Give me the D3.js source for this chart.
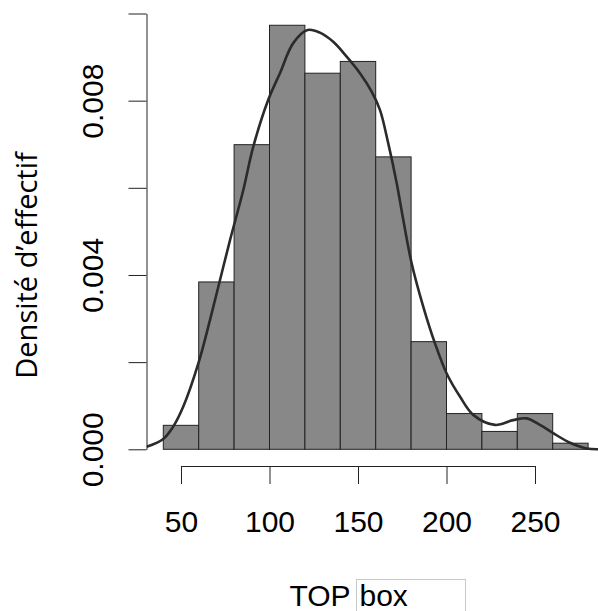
<!DOCTYPE html>
<html>
<head>
<meta charset="utf-8">
<script src="https://cdn.jsdelivr.net/npm/d3@7/dist/d3.min.js"></script>
<style>
  html, body { margin: 0; padding: 0; background: #fff; }
  svg { display: block; }
</style>
</head>
<body>
<svg id="chart" width="598" height="611"></svg>
<script>
// Histogram bins (TOP box) and their densities
const binEdges = [40, 60, 80, 100, 120, 140, 160, 180, 200, 220, 240, 260, 280];
const binDensity = [0.00055, 0.00384, 0.00699, 0.00973, 0.00863, 0.00890,
                    0.00671, 0.00247, 0.00082, 0.00041, 0.00082, 0.00014];

// Kernel density estimate, sampled along the x range
const kdeX = [30.6, 39.8, 45.6, 51.3, 59.8, 66.4, 72.0, 77.7, 85.2, 90.8, 99.3, 105.9,
              113.4, 121.5, 128.5, 136.0, 143.6, 151.1, 157.7, 162.4, 167.1, 171.9,
              175.6, 180.3, 186.9, 193.5, 200.1, 207.6, 215.1, 227.4, 237.7, 245.3,
              252.8, 260.3, 269.8, 279.2, 286.0];
const kdeY = [0.00006, 0.00023, 0.00052, 0.00098, 0.00197, 0.00297, 0.00388, 0.00480,
              0.00595, 0.00694, 0.00802, 0.00863, 0.00932, 0.00962, 0.00956, 0.00935,
              0.00901, 0.00863, 0.00821, 0.00779, 0.00702, 0.00610, 0.00526, 0.00427,
              0.00327, 0.00243, 0.00174, 0.00121, 0.00079, 0.00056, 0.00067, 0.00071,
              0.00056, 0.00037, 0.00015, 0.00002, 0.000003];

// Axis ticks
const xTicks = [50, 100, 150, 200, 250];
const yTicks = [0, 0.002, 0.004, 0.006, 0.008, 0.010];
const yTickLabels = ["0.000", "", "0.004", "", "0.008", ""];

const xTitle = "TOP";
const xTitleBox = "box";
const yTitle = "Densité d’effectif";

const svg = d3.select("#chart");

const x = d3.scaleLinear().domain([50, 250]).range([181, 535]);
const y = d3.scaleLinear().domain([0, 0.010]).range([449.3, 13.5]);

const axisX0 = 146.5;   // left edge of the plotting region
const axisY0 = 466;     // x axis line

// Bars
const bins = binDensity.map((d, i) => ({ x0: binEdges[i], x1: binEdges[i + 1], d }));
svg.append("g")
  .selectAll("rect")
  .data(bins)
  .join("rect")
  .attr("x", b => x(b.x0))
  .attr("y", b => y(b.d))
  .attr("width", b => x(b.x1) - x(b.x0))
  .attr("height", b => y(0) - y(b.d))
  .attr("fill", "#888888")
  .attr("stroke", "#222")
  .attr("stroke-width", 1);

// Density curve, clipped to the plotting region
svg.append("clipPath").attr("id", "plotClip")
  .append("rect").attr("x", axisX0).attr("y", 0).attr("width", 598 - axisX0).attr("height", 460);

const line = d3.line()
  .x((d, i) => x(kdeX[i]))
  .y(d => y(d))
  .curve(d3.curveCatmullRom.alpha(0.5));

svg.append("path")
  .attr("clip-path", "url(#plotClip)")
  .attr("d", line(kdeY))
  .attr("fill", "none")
  .attr("stroke", "#2b2b2b")
  .attr("stroke-width", 2.6)
  .attr("stroke-linejoin", "round");

// X axis
const gx = svg.append("g")
  .attr("transform", `translate(0,${axisY0})`)
  .call(d3.axisBottom(x).tickValues(xTicks).tickSize(18).tickSizeOuter(0).tickFormat(d3.format("d")));
gx.select(".domain").attr("stroke", "#222");
gx.selectAll(".tick line").attr("stroke", "#222");
gx.selectAll(".tick text")
  .attr("y", 65.5).attr("dy", 0)
  .attr("fill", "#000")
  .style("font-family", "'Liberation Sans', Arial, sans-serif")
  .style("font-size", "30px");

// Y axis with vertical labels
const gy = svg.append("g")
  .attr("transform", `translate(${axisX0},0)`)
  .call(d3.axisLeft(y).tickValues(yTicks).tickSize(18).tickSizeOuter(0)
    .tickFormat((d, i) => yTickLabels[i]));
gy.select(".domain").attr("stroke", "#222");
gy.selectAll(".tick line").attr("stroke", "#222");
gy.selectAll(".tick text")
  .attr("transform", "rotate(-90)")
  .attr("x", 0).attr("y", -43.5).attr("dy", 0)
  .attr("text-anchor", "middle")
  .attr("fill", "#000")
  .style("font-family", "'Liberation Sans', Arial, sans-serif")
  .style("font-size", "30px");

// Y title
svg.append("text")
  .attr("transform", "translate(36.5,265.5) rotate(-90)")
  .attr("text-anchor", "middle")
  .attr("fill", "#000")
  .style("font-family", "'Open Sans', sans-serif")
  .style("font-size", "29px")
  .text(yTitle);

// X title with the boxed suffix
svg.append("text")
  .attr("x", 289.5).attr("y", 606)
  .attr("fill", "#000")
  .style("font-family", "'Liberation Sans', Arial, sans-serif")
  .style("font-size", "30px")
  .text(xTitle);

svg.append("rect")
  .attr("x", 356.5).attr("y", 579.5).attr("width", 109).attr("height", 40)
  .attr("fill", "#fff").attr("stroke", "#c8c8c8").attr("stroke-width", 1);

svg.append("text")
  .attr("x", 359.5).attr("y", 606)
  .attr("fill", "#000")
  .style("font-family", "'Liberation Sans', Arial, sans-serif")
  .style("font-size", "30px")
  .text(xTitleBox);
</script>
</body>
</html>
